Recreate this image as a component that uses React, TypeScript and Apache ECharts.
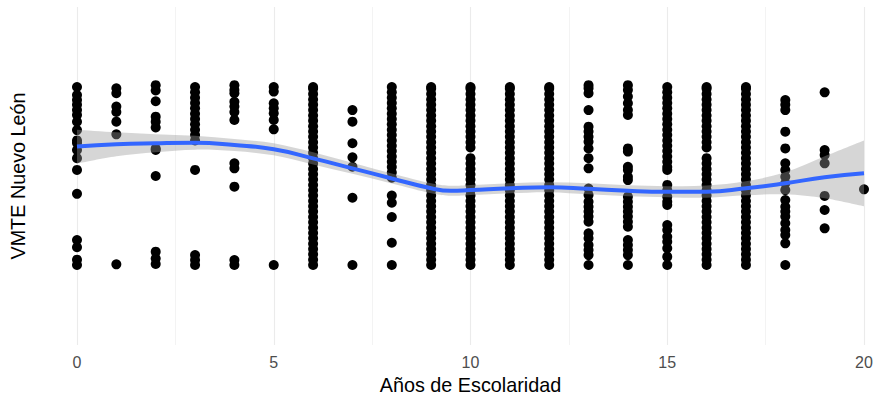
import { useEffect, useRef } from "react";
import * as echarts from "echarts";

// Scatter values (VMTE, scaled 0..1) per years of schooling
const fullCol = [0, 0.03, 0.06, 0.09, 0.12, 0.15, 0.18, 0.21, 0.24, 0.27, 0.3, 0.33, 0.36, 0.39, 0.42, 0.45, 0.48, 0.51, 0.54, 0.57, 0.6, 0.63, 0.66, 0.69, 0.72, 0.75, 0.78, 0.81, 0.84, 0.87, 0.9, 0.93, 0.96, 0.99, 1.0];
const gapCol = [0, 0.03, 0.06, 0.09, 0.12, 0.15, 0.18, 0.21, 0.24, 0.27, 0.3, 0.33, 0.36, 0.39, 0.42, 0.45, 0.48, 0.51, 0.54, 0.57, 0.6, 0.66, 0.69, 0.72, 0.75, 0.78, 0.81, 0.84, 0.87, 0.9, 0.93, 0.96, 0.99, 1.0];
const col0 = [1.0, 0.955, 0.927, 0.9, 0.87, 0.843, 0.805, 0.758, 0.7, 0.685, 0.646, 0.6, 0.534, 0.4, 0.14, 0.1, 0.03, 0];
const col1 = [0.993, 0.965, 0.89, 0.86, 0.805, 0.734, 0.004];
const col2 = [1.01, 0.98, 0.92, 0.833, 0.805, 0.773, 0.655, 0.646, 0.5, 0.075, 0.037, 0.006];
const col3 = [1.0, 0.97, 0.94, 0.91, 0.88, 0.85, 0.82, 0.79, 0.76, 0.73, 0.7, 0.534, 0.056, 0.028, 0];
const col4 = [1.01, 0.983, 0.965, 0.917, 0.89, 0.86, 0.815, 0.571, 0.543, 0.44, 0.028, 0];
const col5 = [1.0, 0.974, 0.908, 0.88, 0.852, 0.815, 0.762, 0];
const col7 = [0.87, 0.805, 0.684, 0.605, 0.552, 0.378, 0];
const col8 = [1.0, 0.97, 0.94, 0.91, 0.88, 0.85, 0.82, 0.79, 0.76, 0.73, 0.7, 0.67, 0.64, 0.61, 0.58, 0.55, 0.52, 0.49, 0.39, 0.35, 0.27, 0.125, 0];
const col13 = [1.01, 0.993, 0.965, 0.87, 0.777, 0.75, 0.72, 0.693, 0.655, 0.6, 0.543, 0.43, 0.393, 0.356, 0.328, 0.3, 0.272, 0.243, 0.178, 0.15, 0.112, 0.084, 0.056, 0];
const col14 = [1.01, 0.983, 0.946, 0.908, 0.87, 0.843, 0.655, 0.637, 0.552, 0.534, 0.496, 0.477, 0.384, 0.356, 0.328, 0.3, 0.272, 0.243, 0.215, 0.14, 0.112, 0.084, 0.056, 0];
const col15 = [1.0, 0.97, 0.94, 0.91, 0.88, 0.85, 0.82, 0.79, 0.76, 0.73, 0.7, 0.67, 0.64, 0.61, 0.58, 0.55, 0.534, 0.45, 0.42, 0.384, 0.356, 0.337, 0.225, 0.197, 0.159, 0.131, 0.094, 0.047, 0];
const col18 = [0.927, 0.9, 0.87, 0.749, 0.655, 0.571, 0.534, 0.496, 0.459, 0.421, 0.365, 0.328, 0.3, 0.272, 0.234, 0.197, 0.169, 0.122, 0];
const col19 = [0.97, 0.646, 0.618, 0.571, 0.388, 0.309, 0.206];
const col20 = [0.425];

const columns: [number, number[]][] = [
  [0, col0], [1, col1], [2, col2], [3, col3], [4, col4], [5, col5], [6, fullCol],
  [7, col7], [8, col8], [9, fullCol], [10, gapCol], [11, fullCol], [12, fullCol],
  [13, col13], [14, col14], [15, col15], [16, gapCol], [17, fullCol], [18, col18],
  [19, col19], [20, col20],
];

// Loess fit and confidence band
const smoothX = [0, 1, 2, 3, 4, 5, 6, 7, 8, 9, 9.5, 10, 11, 12, 13, 14, 15, 16, 17, 18, 19, 20];
const smoothY = [0.665, 0.678, 0.684, 0.687, 0.674, 0.65, 0.599, 0.543, 0.486, 0.431, 0.417, 0.421, 0.431, 0.437, 0.428, 0.417, 0.412, 0.412, 0.431, 0.459, 0.493, 0.515];
const bandLow = [0.57, 0.611, 0.633, 0.648, 0.64, 0.616, 0.565, 0.512, 0.458, 0.403, 0.389, 0.393, 0.403, 0.409, 0.397, 0.386, 0.381, 0.378, 0.392, 0.397, 0.375, 0.33];
const bandHigh = [0.76, 0.745, 0.735, 0.726, 0.708, 0.684, 0.633, 0.574, 0.514, 0.459, 0.445, 0.449, 0.459, 0.465, 0.459, 0.448, 0.443, 0.446, 0.47, 0.521, 0.611, 0.7];

const xTitle = "Años de Escolaridad";
const yTitle = "VMTE Nuevo León";
const FONT = "Liberation Sans, Arial, Helvetica, sans-serif";

function catmull(pts: number[][], first: boolean): string {
  let d = first ? `M${pts[0][0]},${pts[0][1]}` : `L${pts[0][0]},${pts[0][1]}`;
  for (let i = 0; i < pts.length - 1; i++) {
    const p0 = pts[Math.max(0, i - 1)];
    const p1 = pts[i];
    const p2 = pts[i + 1];
    const p3 = pts[Math.min(pts.length - 1, i + 2)];
    const c1x = p1[0] + (p2[0] - p0[0]) / 6;
    const c1y = p1[1] + (p2[1] - p0[1]) / 6;
    const c2x = p2[0] - (p3[0] - p1[0]) / 6;
    const c2y = p2[1] - (p3[1] - p1[1]) / 6;
    d += ` C${c1x},${c1y} ${c2x},${c2y} ${p2[0]},${p2[1]}`;
  }
  return d;
}

export default function App() {
  const ref = useRef<HTMLDivElement>(null);
  useEffect(() => {
    const chart = echarts.init(ref.current!, null, { renderer: "svg" });
    const points: number[][] = [];
    columns.forEach(([x, ys]) => ys.forEach((y) => points.push([x, y])));
    chart.setOption({
      animation: false,
      backgroundColor: "#fff",
      grid: { left: 76, right: 13, top: 7, bottom: 56, containLabel: false },
      xAxis: {
        type: "value",
        min: 0,
        max: 20,
        interval: 5,
        name: xTitle,
        nameLocation: "middle",
        nameGap: 28,
        nameTextStyle: { fontFamily: FONT, fontSize: 19.8, color: "#000" },
        axisLine: { show: false },
        axisTick: { show: false },
        axisLabel: { color: "#4D4D4D", fontSize: 16, margin: 9, fontFamily: FONT },
        splitLine: { show: true, lineStyle: { color: "#EBEBEB", width: 1.1 } },
        minorTick: { show: false, splitNumber: 2 },
        minorSplitLine: { show: true, lineStyle: { color: "#EBEBEB", width: 0.6 } },
      },
      yAxis: {
        type: "value",
        min: -0.449,
        max: 1.449,
        name: yTitle,
        nameLocation: "middle",
        nameGap: 49,
        nameRotate: 90,
        nameTextStyle: { fontFamily: FONT, fontSize: 19.8, color: "#000" },
        axisLine: { show: false },
        axisTick: { show: false },
        axisLabel: { show: false },
        splitLine: { show: false },
      },
      series: [
        {
          type: "scatter",
          data: points,
          symbolSize: 10,
          itemStyle: { color: "#000", opacity: 1 },
          clip: false,
          silent: true,
          z: 2,
        },
        {
          type: "custom",
          coordinateSystem: "cartesian2d",
          data: [[0, 0]],
          silent: true,
          z: 3,
          renderItem: (_params: any, api: any) => {
            const up = smoothX.map((x, i) => api.coord([x, bandHigh[i]]));
            const lo = smoothX.map((x, i) => api.coord([x, bandLow[i]])).reverse();
            const d = catmull(up, true) + " " + catmull(lo, false) + " Z";
            return {
              type: "path",
              shape: { pathData: d },
              style: { fill: "rgba(153,153,153,0.4)", stroke: "none" },
            };
          },
        },
        {
          type: "line",
          data: smoothX.map((x, i) => [x, smoothY[i]]),
          smooth: true,
          symbol: "none",
          lineStyle: { color: "#3366FF", width: 4 },
          silent: true,
          z: 4,
        },
      ],
    });
    return () => chart.dispose();
  }, []);
  return (
    <div
      ref={ref}
      style={{ position: "fixed", left: 0, top: 0, width: 877, height: 401, background: "#fff" }}
    />
  );
}
